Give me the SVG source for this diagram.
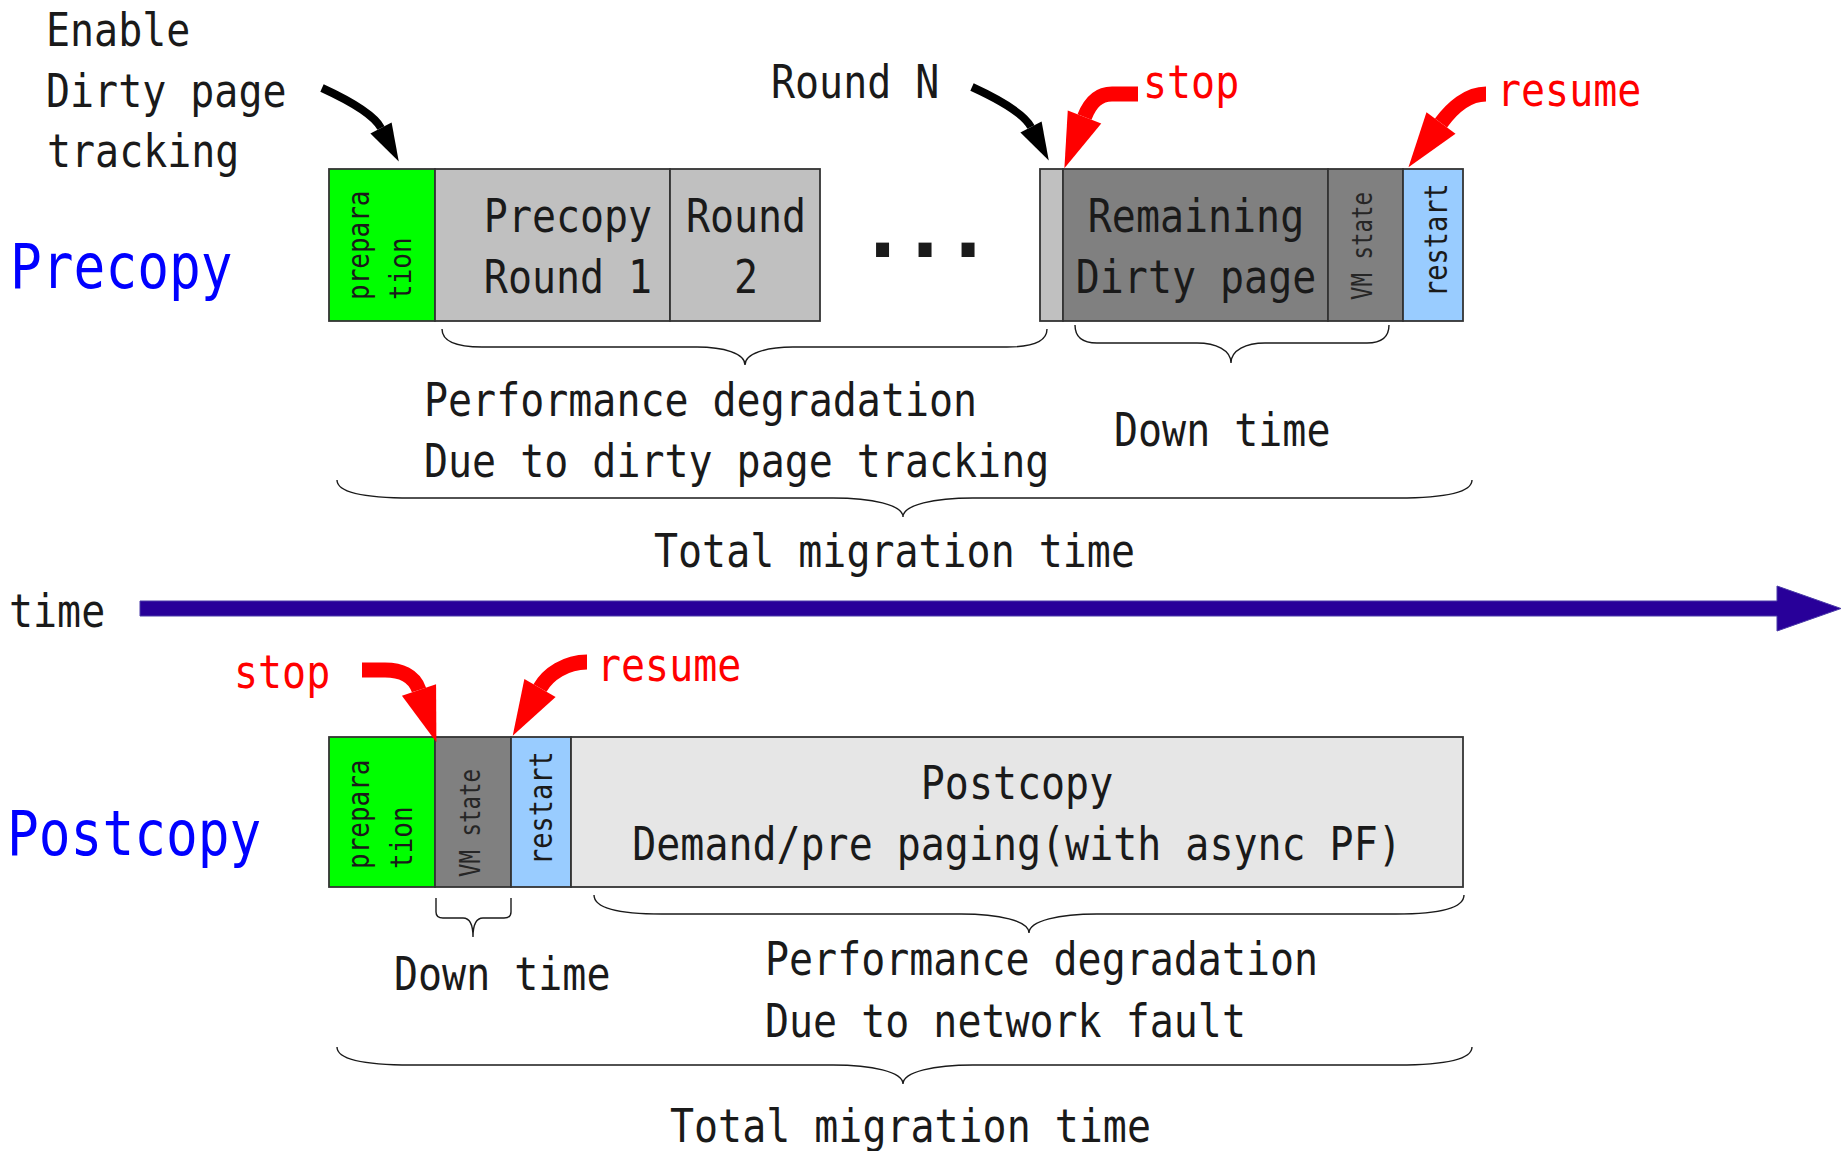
<svg xmlns="http://www.w3.org/2000/svg" width="1843" height="1151" viewBox="0 0 1843 1151">
  <style>
    .t { font-family: "DejaVu Sans Mono", "Liberation Mono", monospace; font-size: 47px; fill: #1a1a1a; }
    .red { fill: #ff0000; }
    .big { font-size: 62px; fill: #0000ff; }
    .rot { font-size: 26px; }
    .rs { font-size: 27px; }
    .vm { font-size: 24px; fill: #262626; }
    .dots { font-size: 80px; font-weight: bold; }
    .box { stroke: #333333; stroke-width: 1.8; }
    .brace { fill: none; stroke: #1a1a1a; stroke-width: 1.4; }
    .redband { fill: none; stroke: #ff0000; stroke-width: 15; marker-end: url(#redHead); }
    .blackband { fill: none; stroke: #000000; stroke-width: 8; marker-end: url(#blackHead); }
  </style>
  <defs>
    <marker id="redHead" markerUnits="userSpaceOnUse" orient="auto" refX="0" refY="0" markerWidth="1" markerHeight="1" overflow="visible">
      <path d="M0,-18 L55,0 L0,18 Z" fill="#ff0000"/>
    </marker>
    <marker id="blackHead" markerUnits="userSpaceOnUse" orient="auto" refX="0" refY="0" markerWidth="1" markerHeight="1" overflow="visible">
      <path d="M0,-12 L38,0 L0,12 Z" fill="#000000"/>
    </marker>
  </defs>

  <rect width="1843" height="1151" fill="#ffffff"/>

  <!-- side labels -->
  <g id="label-precopy">
    <text class="t big" transform="translate(10 288) scale(.852 1)">Precopy</text>
  </g>
  <g id="label-postcopy">
    <text class="t big" transform="translate(7 855) scale(.852 1)">Postcopy</text>
  </g>
  <g id="note-enable">
    <text class="t" transform="translate(46 46) scale(.85 1)">Enable</text>
    <text class="t" transform="translate(46 107) scale(.85 1)">Dirty page</text>
    <text class="t" transform="translate(47 167) scale(.85 1)">tracking</text>
  </g>
  <g id="note-round-n">
    <text class="t" transform="translate(771 98) scale(.85 1)">Round N</text>
  </g>
  <g id="note-stop-pre">
    <text class="t red" transform="translate(1143 98) scale(.85 1)">stop</text>
  </g>
  <g id="note-resume-pre">
    <text class="t red" transform="translate(1497 106) scale(.85 1)">resume</text>
  </g>

  <!-- precopy timeline -->
  <g id="pre-preparation">
    <rect class="box" x="329" y="169" width="106" height="152" fill="#00ff00"/>
    <text class="t rot" transform="translate(369 300) rotate(-90) scale(1 1.15)">prepara</text>
    <text class="t rot" transform="translate(411 300) rotate(-90) scale(1 1.15)">tion</text>
  </g>
  <g id="pre-round1">
    <rect class="box" x="435" y="169" width="235" height="152" fill="#c0c0c0"/>
    <text class="t" text-anchor="middle" transform="translate(568 232) scale(.85 1)">Precopy</text>
    <text class="t" text-anchor="middle" transform="translate(568 293) scale(.85 1)">Round 1</text>
  </g>
  <g id="pre-round2">
    <rect class="box" x="670" y="169" width="150" height="152" fill="#c0c0c0"/>
    <text class="t" text-anchor="middle" transform="translate(746 232) scale(.85 1)">Round</text>
    <text class="t" text-anchor="middle" transform="translate(746 293) scale(.85 1)">2</text>
  </g>
  <g id="pre-ellipsis">
    <text class="t dots" text-anchor="middle" x="882.5 925 968" y="257">...</text>
  </g>
  <g id="pre-roundN">
    <rect class="box" x="1040" y="169" width="23" height="152" fill="#c0c0c0"/>
  </g>
  <g id="pre-remaining">
    <rect class="box" x="1063" y="169" width="265" height="152" fill="#808080"/>
    <text class="t" text-anchor="middle" transform="translate(1196 232) scale(.85 1)">Remaining</text>
    <text class="t" text-anchor="middle" transform="translate(1196 293) scale(.85 1)">Dirty page</text>
  </g>
  <g id="pre-vmstate">
    <rect class="box" x="1328" y="169" width="75" height="152" fill="#808080"/>
    <text class="t vm" textLength="108" lengthAdjust="spacingAndGlyphs" transform="translate(1372 300) rotate(-90) scale(1 1.15)">VM state</text>
  </g>
  <g id="pre-restart">
    <rect class="box" x="1403" y="169" width="60" height="152" fill="#99ccff"/>
    <text class="t rs" transform="translate(1447 297) rotate(-90) scale(1 1.15)">restart</text>
  </g>

  <!-- precopy annotations -->
  <g id="pre-notes">
    <text class="t" transform="translate(424 416) scale(.85 1)">Performance degradation</text>
    <text class="t" transform="translate(424 477) scale(.85 1)">Due to dirty page tracking</text>
    <text class="t" transform="translate(1114 446) scale(.85 1)">Down time</text>
    <text class="t" transform="translate(654 567) scale(.85 1)">Total migration time</text>
  </g>

  <!-- time axis -->
  <g id="time-axis">
    <text class="t" transform="translate(9 627) scale(.85 1)">time</text>
    <path d="M140,601 L1777,601 L1777,586 L1841,608.5 L1777,631 L1777,616 L140,616 Z" fill="#280099" stroke="#4a3aa8" stroke-width="1"/>
  </g>

  <!-- postcopy timeline -->
  <g id="note-stop-post">
    <text class="t red" transform="translate(234 688) scale(.85 1)">stop</text>
  </g>
  <g id="note-resume-post">
    <text class="t red" transform="translate(597 681) scale(.85 1)">resume</text>
  </g>
  <g id="post-preparation">
    <rect class="box" x="329" y="737" width="106" height="150" fill="#00ff00"/>
    <text class="t rot" transform="translate(369 869) rotate(-90) scale(1 1.15)">prepara</text>
    <text class="t rot" transform="translate(412 869) rotate(-90) scale(1 1.15)">tion</text>
  </g>
  <g id="post-vmstate">
    <rect class="box" x="435" y="737" width="76" height="150" fill="#808080"/>
    <text class="t vm" textLength="108" lengthAdjust="spacingAndGlyphs" transform="translate(480 877) rotate(-90) scale(1 1.15)">VM state</text>
  </g>
  <g id="post-restart">
    <rect class="box" x="511" y="737" width="60" height="150" fill="#99ccff"/>
    <text class="t rs" transform="translate(552 865) rotate(-90) scale(1 1.15)">restart</text>
  </g>
  <g id="post-paging">
    <rect class="box" x="571" y="737" width="892" height="150" fill="#e6e6e6"/>
    <text class="t" text-anchor="middle" transform="translate(1017 799) scale(.85 1)">Postcopy</text>
    <text class="t" text-anchor="middle" transform="translate(1017 860) scale(.85 1)">Demand/pre paging(with async PF)</text>
  </g>

  <!-- postcopy annotations -->
  <g id="post-notes">
    <text class="t" transform="translate(394 990) scale(.85 1)">Down time</text>
    <text class="t" transform="translate(765 975) scale(.85 1)">Performance degradation</text>
    <text class="t" transform="translate(765 1037) scale(.85 1)">Due to network fault</text>
    <text class="t" transform="translate(670 1142) scale(.85 1)">Total migration time</text>
  </g>

  <!-- braces -->
  <g id="braces">
    <path class="brace" d="M442,329 C442,341.6 456,347 482,347 L697,347 C723.4,347 745,353.3 745,365 C745,353.3 766.6,347 793,347 L1007,347 C1033,347 1047,341.6 1047,329"/>
    <path class="brace" d="M1075,325 C1075,337.6 1082.7,343 1097,343 L1197,343 C1215.7,343 1231,350 1231,363 C1231,350 1246.3,343 1265,343 L1367,343 C1381.3,343 1389,337.6 1389,325"/>
    <path class="brace" d="M337,480 C337,492.6 362.9,498 411,498 L833,498 C871.5,498 903,504.7 903,517 C903,504.7 934.5,498 973,498 L1398,498 C1446.1,498 1472,492.6 1472,480"/>
    <path class="brace" d="M436,898 L436,912 Q436,918 443,918 L463,918 Q473,918 473,937 Q473,918 483,918 L504,918 Q511,918 511,912 L511,898"/>
    <path class="brace" d="M594,895 C594,908.3 617.8,914 662,914 L961,914 C998.4,914 1029,920.7 1029,933 C1029,920.7 1059.6,914 1097,914 L1396,914 C1440.2,914 1464,908.3 1464,895"/>
    <path class="brace" d="M337,1047 C337,1059.6 362.9,1065 411,1065 L833,1065 C871.5,1065 903,1071.7 903,1084 C903,1071.7 934.5,1065 973,1065 L1398,1065 C1446.1,1065 1472,1059.6 1472,1047"/>
  </g>

  <!-- connectors -->
  <g id="connectors">
    <path class="blackband" d="M322,88 Q372,111 381,128"/>
    <path class="blackband" d="M972,87 Q1022,110 1031,127"/>
    <path class="redband" d="M1138,94 L1112,94 C1098,94 1090,103 1084.5,117"/>
    <path class="redband" d="M1486,94 C1468,94 1452,108 1441,123"/>
    <path class="redband" d="M362,670 L385,670 C400,670 414,675 419,690"/>
    <path class="redband" d="M587,662 C566,662 548,674 540,688"/>
  </g>
</svg>
